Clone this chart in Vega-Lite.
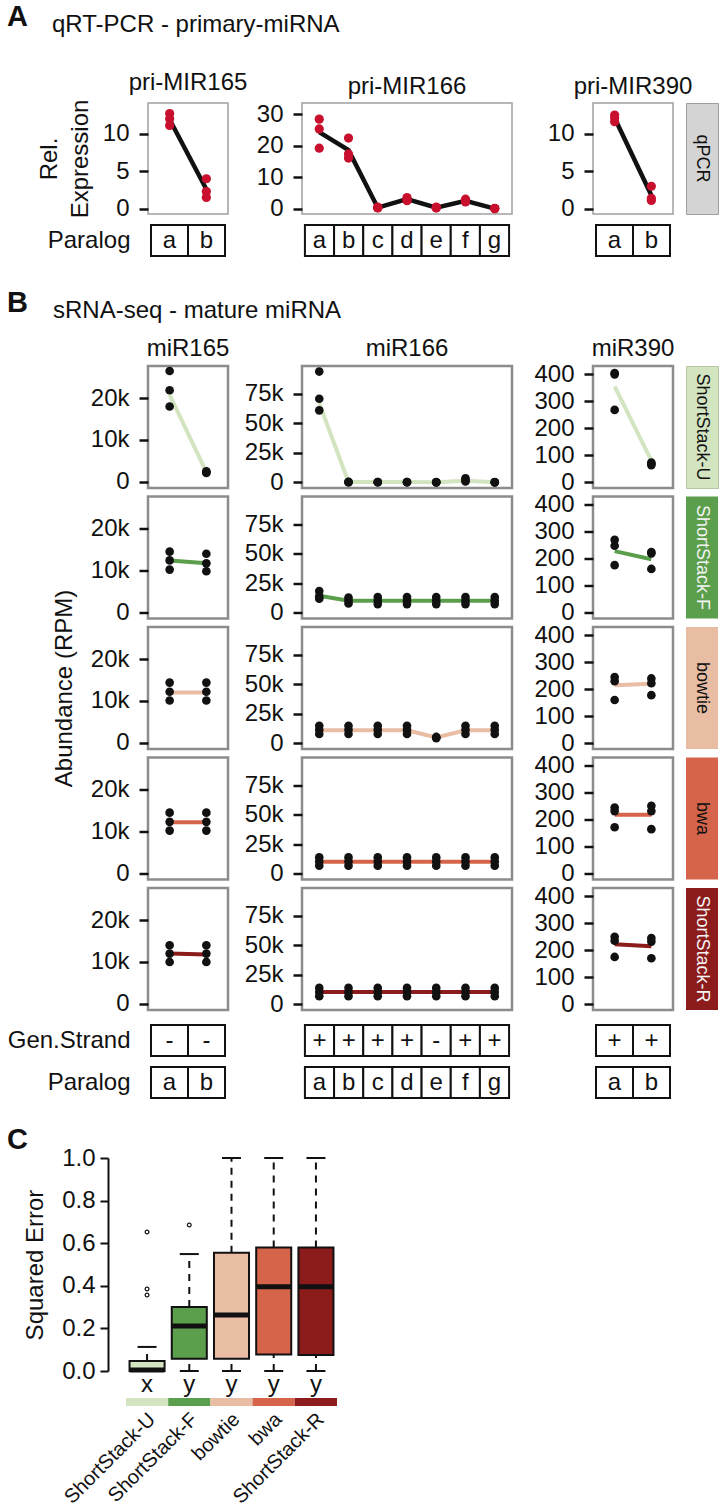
{
"$schema":"https://vega.github.io/schema/vega-lite/v6.json",
"padding":{"left":7,"top":3,"right":0,"bottom":0},
"config":{
 "font":"Liberation Sans",
 "view":{"stroke":"#8c8c8c","strokeWidth":2.5},
 "axis":{"labelFontSize":24,"labelColor":"#111","tickColor":"#111","tickWidth":2.5,"tickSize":9,"labelPadding":10,"domain":false,"grid":false,"titleFontSize":24,"titleFontWeight":"normal","titleColor":"#111","labelOverlap":false},
 "title":{"fontSize":24,"fontWeight":"normal","color":"#111","baseline":"alphabetic","anchor":"middle","frame":"group"},
 "legend":{"disable":true},
 "text":{"font":"Liberation Sans"}
},
"datasets":{
 "ptsA":[
  {"g":"MIR165","p":"a","v":12.7},{"g":"MIR165","p":"a","v":12.0},{"g":"MIR165","p":"a","v":11.1},
  {"g":"MIR165","p":"b","v":4.0},{"g":"MIR165","p":"b","v":2.3},{"g":"MIR165","p":"b","v":1.5},
  {"g":"MIR166","p":"a","v":28.4},{"g":"MIR166","p":"a","v":25.3},{"g":"MIR166","p":"a","v":19.2},
  {"g":"MIR166","p":"b","v":22.4},{"g":"MIR166","p":"b","v":17.4},{"g":"MIR166","p":"b","v":16.1},
  {"g":"MIR166","p":"c","v":0.6},{"g":"MIR166","p":"c","v":0.4},{"g":"MIR166","p":"c","v":0.3},
  {"g":"MIR166","p":"d","v":3.6},{"g":"MIR166","p":"d","v":3.1},{"g":"MIR166","p":"d","v":2.6},
  {"g":"MIR166","p":"e","v":0.6},{"g":"MIR166","p":"e","v":0.4},{"g":"MIR166","p":"e","v":0.3},
  {"g":"MIR166","p":"f","v":3.1},{"g":"MIR166","p":"f","v":2.6},{"g":"MIR166","p":"f","v":2.2},
  {"g":"MIR166","p":"g","v":0.2},{"g":"MIR166","p":"g","v":0.1},{"g":"MIR166","p":"g","v":0.1},
  {"g":"MIR390","p":"a","v":12.5},{"g":"MIR390","p":"a","v":12.1},{"g":"MIR390","p":"a","v":11.6},
  {"g":"MIR390","p":"b","v":3.0},{"g":"MIR390","p":"b","v":1.4},{"g":"MIR390","p":"b","v":1.1}
 ],
 "estA":[
  {"g":"MIR165","p":"a","v":11.9},{"g":"MIR165","p":"b","v":2.6},
  {"g":"MIR166","p":"a","v":24.3},{"g":"MIR166","p":"b","v":18.6},{"g":"MIR166","p":"c","v":0.4},{"g":"MIR166","p":"d","v":3.1},{"g":"MIR166","p":"e","v":0.4},{"g":"MIR166","p":"f","v":2.6},{"g":"MIR166","p":"g","v":0.1},
  {"g":"MIR390","p":"a","v":12.1},{"g":"MIR390","p":"b","v":1.8}
 ],
 "ptsB":[
  {"m":"ShortStack-U","g":"miR165","p":"a","v":26500},{"m":"ShortStack-U","g":"miR165","p":"a","v":21900},{"m":"ShortStack-U","g":"miR165","p":"a","v":18000},
  {"m":"ShortStack-U","g":"miR165","p":"b","v":2500},{"m":"ShortStack-U","g":"miR165","p":"b","v":2300},{"m":"ShortStack-U","g":"miR165","p":"b","v":2100},
  {"m":"ShortStack-F","g":"miR165","p":"a","v":14500},{"m":"ShortStack-F","g":"miR165","p":"a","v":12400},{"m":"ShortStack-F","g":"miR165","p":"a","v":10200},
  {"m":"ShortStack-F","g":"miR165","p":"b","v":14000},{"m":"ShortStack-F","g":"miR165","p":"b","v":11700},{"m":"ShortStack-F","g":"miR165","p":"b","v":9800},
  {"m":"bowtie","g":"miR165","p":"a","v":14400},{"m":"bowtie","g":"miR165","p":"a","v":12200},{"m":"bowtie","g":"miR165","p":"a","v":10100},
  {"m":"bowtie","g":"miR165","p":"b","v":14400},{"m":"bowtie","g":"miR165","p":"b","v":12200},{"m":"bowtie","g":"miR165","p":"b","v":10100},
  {"m":"bwa","g":"miR165","p":"a","v":14500},{"m":"bwa","g":"miR165","p":"a","v":12300},{"m":"bwa","g":"miR165","p":"a","v":10200},
  {"m":"bwa","g":"miR165","p":"b","v":14500},{"m":"bwa","g":"miR165","p":"b","v":12300},{"m":"bwa","g":"miR165","p":"b","v":10200},
  {"m":"ShortStack-R","g":"miR165","p":"a","v":14000},{"m":"ShortStack-R","g":"miR165","p":"a","v":12000},{"m":"ShortStack-R","g":"miR165","p":"a","v":10000},
  {"m":"ShortStack-R","g":"miR165","p":"b","v":14000},{"m":"ShortStack-R","g":"miR165","p":"b","v":12000},{"m":"ShortStack-R","g":"miR165","p":"b","v":10000},

  {"m":"ShortStack-U","g":"miR166","p":"a","v":93800},{"m":"ShortStack-U","g":"miR166","p":"a","v":70800},{"m":"ShortStack-U","g":"miR166","p":"a","v":61000},
  {"m":"ShortStack-U","g":"miR166","p":"b","v":500},{"m":"ShortStack-U","g":"miR166","p":"b","v":300},{"m":"ShortStack-U","g":"miR166","p":"b","v":200},
  {"m":"ShortStack-U","g":"miR166","p":"c","v":400},{"m":"ShortStack-U","g":"miR166","p":"c","v":300},{"m":"ShortStack-U","g":"miR166","p":"c","v":200},
  {"m":"ShortStack-U","g":"miR166","p":"d","v":400},{"m":"ShortStack-U","g":"miR166","p":"d","v":300},{"m":"ShortStack-U","g":"miR166","p":"d","v":200},
  {"m":"ShortStack-U","g":"miR166","p":"e","v":300},{"m":"ShortStack-U","g":"miR166","p":"e","v":200},{"m":"ShortStack-U","g":"miR166","p":"e","v":100},
  {"m":"ShortStack-U","g":"miR166","p":"f","v":3500},{"m":"ShortStack-U","g":"miR166","p":"f","v":1800},{"m":"ShortStack-U","g":"miR166","p":"f","v":800},
  {"m":"ShortStack-U","g":"miR166","p":"g","v":300},{"m":"ShortStack-U","g":"miR166","p":"g","v":200},{"m":"ShortStack-U","g":"miR166","p":"g","v":100},
  {"m":"ShortStack-F","g":"miR166","p":"a","v":18500},{"m":"ShortStack-F","g":"miR166","p":"a","v":14000},{"m":"ShortStack-F","g":"miR166","p":"a","v":12000},
  {"m":"ShortStack-F","g":"miR166","p":"b","v":13000},{"m":"ShortStack-F","g":"miR166","p":"b","v":10500},{"m":"ShortStack-F","g":"miR166","p":"b","v":8000},
  {"m":"ShortStack-F","g":"miR166","p":"c","v":13500},{"m":"ShortStack-F","g":"miR166","p":"c","v":10500},{"m":"ShortStack-F","g":"miR166","p":"c","v":7500},
  {"m":"ShortStack-F","g":"miR166","p":"d","v":13500},{"m":"ShortStack-F","g":"miR166","p":"d","v":10500},{"m":"ShortStack-F","g":"miR166","p":"d","v":7500},
  {"m":"ShortStack-F","g":"miR166","p":"e","v":13500},{"m":"ShortStack-F","g":"miR166","p":"e","v":10500},{"m":"ShortStack-F","g":"miR166","p":"e","v":7500},
  {"m":"ShortStack-F","g":"miR166","p":"f","v":13500},{"m":"ShortStack-F","g":"miR166","p":"f","v":10500},{"m":"ShortStack-F","g":"miR166","p":"f","v":7500},
  {"m":"ShortStack-F","g":"miR166","p":"g","v":13500},{"m":"ShortStack-F","g":"miR166","p":"g","v":10500},{"m":"ShortStack-F","g":"miR166","p":"g","v":7500},
  {"m":"bowtie","g":"miR166","p":"a","v":15000},{"m":"bowtie","g":"miR166","p":"a","v":11500},{"m":"bowtie","g":"miR166","p":"a","v":8000},
  {"m":"bowtie","g":"miR166","p":"b","v":15000},{"m":"bowtie","g":"miR166","p":"b","v":11500},{"m":"bowtie","g":"miR166","p":"b","v":8000},
  {"m":"bowtie","g":"miR166","p":"c","v":15000},{"m":"bowtie","g":"miR166","p":"c","v":11500},{"m":"bowtie","g":"miR166","p":"c","v":8000},
  {"m":"bowtie","g":"miR166","p":"d","v":15000},{"m":"bowtie","g":"miR166","p":"d","v":11500},{"m":"bowtie","g":"miR166","p":"d","v":8000},
  {"m":"bowtie","g":"miR166","p":"e","v":5500},{"m":"bowtie","g":"miR166","p":"e","v":5000},{"m":"bowtie","g":"miR166","p":"e","v":4500},
  {"m":"bowtie","g":"miR166","p":"f","v":15000},{"m":"bowtie","g":"miR166","p":"f","v":11500},{"m":"bowtie","g":"miR166","p":"f","v":8000},
  {"m":"bowtie","g":"miR166","p":"g","v":15000},{"m":"bowtie","g":"miR166","p":"g","v":11500},{"m":"bowtie","g":"miR166","p":"g","v":8000},
  {"m":"bwa","g":"miR166","p":"a","v":14000},{"m":"bwa","g":"miR166","p":"a","v":10500},{"m":"bwa","g":"miR166","p":"a","v":7000},
  {"m":"bwa","g":"miR166","p":"b","v":14000},{"m":"bwa","g":"miR166","p":"b","v":10500},{"m":"bwa","g":"miR166","p":"b","v":7000},
  {"m":"bwa","g":"miR166","p":"c","v":14000},{"m":"bwa","g":"miR166","p":"c","v":10500},{"m":"bwa","g":"miR166","p":"c","v":7000},
  {"m":"bwa","g":"miR166","p":"d","v":14000},{"m":"bwa","g":"miR166","p":"d","v":10500},{"m":"bwa","g":"miR166","p":"d","v":7000},
  {"m":"bwa","g":"miR166","p":"e","v":14000},{"m":"bwa","g":"miR166","p":"e","v":10500},{"m":"bwa","g":"miR166","p":"e","v":7000},
  {"m":"bwa","g":"miR166","p":"f","v":14000},{"m":"bwa","g":"miR166","p":"f","v":10500},{"m":"bwa","g":"miR166","p":"f","v":7000},
  {"m":"bwa","g":"miR166","p":"g","v":14000},{"m":"bwa","g":"miR166","p":"g","v":10500},{"m":"bwa","g":"miR166","p":"g","v":7000},
  {"m":"ShortStack-R","g":"miR166","p":"a","v":14000},{"m":"ShortStack-R","g":"miR166","p":"a","v":10500},{"m":"ShortStack-R","g":"miR166","p":"a","v":7000},
  {"m":"ShortStack-R","g":"miR166","p":"b","v":14000},{"m":"ShortStack-R","g":"miR166","p":"b","v":10500},{"m":"ShortStack-R","g":"miR166","p":"b","v":7000},
  {"m":"ShortStack-R","g":"miR166","p":"c","v":14000},{"m":"ShortStack-R","g":"miR166","p":"c","v":10500},{"m":"ShortStack-R","g":"miR166","p":"c","v":7000},
  {"m":"ShortStack-R","g":"miR166","p":"d","v":14000},{"m":"ShortStack-R","g":"miR166","p":"d","v":10500},{"m":"ShortStack-R","g":"miR166","p":"d","v":7000},
  {"m":"ShortStack-R","g":"miR166","p":"e","v":14000},{"m":"ShortStack-R","g":"miR166","p":"e","v":10500},{"m":"ShortStack-R","g":"miR166","p":"e","v":7000},
  {"m":"ShortStack-R","g":"miR166","p":"f","v":14000},{"m":"ShortStack-R","g":"miR166","p":"f","v":10500},{"m":"ShortStack-R","g":"miR166","p":"f","v":7000},
  {"m":"ShortStack-R","g":"miR166","p":"g","v":14000},{"m":"ShortStack-R","g":"miR166","p":"g","v":10500},{"m":"ShortStack-R","g":"miR166","p":"g","v":7000},

  {"m":"ShortStack-U","g":"miR390","p":"a","v":405},{"m":"ShortStack-U","g":"miR390","p":"a","v":400},{"m":"ShortStack-U","g":"miR390","p":"a","v":268},
  {"m":"ShortStack-U","g":"miR390","p":"b","v":72},{"m":"ShortStack-U","g":"miR390","p":"b","v":68},{"m":"ShortStack-U","g":"miR390","p":"b","v":63},
  {"m":"ShortStack-F","g":"miR390","p":"a","v":270},{"m":"ShortStack-F","g":"miR390","p":"a","v":248},{"m":"ShortStack-F","g":"miR390","p":"a","v":176},
  {"m":"ShortStack-F","g":"miR390","p":"b","v":225},{"m":"ShortStack-F","g":"miR390","p":"b","v":220},{"m":"ShortStack-F","g":"miR390","p":"b","v":162},
  {"m":"bowtie","g":"miR390","p":"a","v":245},{"m":"bowtie","g":"miR390","p":"a","v":230},{"m":"bowtie","g":"miR390","p":"a","v":160},
  {"m":"bowtie","g":"miR390","p":"b","v":240},{"m":"bowtie","g":"miR390","p":"b","v":222},{"m":"bowtie","g":"miR390","p":"b","v":178},
  {"m":"bwa","g":"miR390","p":"a","v":245},{"m":"bwa","g":"miR390","p":"a","v":232},{"m":"bwa","g":"miR390","p":"a","v":172},
  {"m":"bwa","g":"miR390","p":"b","v":252},{"m":"bwa","g":"miR390","p":"b","v":232},{"m":"bwa","g":"miR390","p":"b","v":165},
  {"m":"ShortStack-R","g":"miR390","p":"a","v":250},{"m":"ShortStack-R","g":"miR390","p":"a","v":235},{"m":"ShortStack-R","g":"miR390","p":"a","v":175},
  {"m":"ShortStack-R","g":"miR390","p":"b","v":245},{"m":"ShortStack-R","g":"miR390","p":"b","v":232},{"m":"ShortStack-R","g":"miR390","p":"b","v":170}
 ],
 "estB":[
  {"m":"ShortStack-U","g":"miR165","p":"a","v":20800},{"m":"ShortStack-U","g":"miR165","p":"b","v":2300},
  {"m":"ShortStack-F","g":"miR165","p":"a","v":12400},{"m":"ShortStack-F","g":"miR165","p":"b","v":11700},
  {"m":"bowtie","g":"miR165","p":"a","v":12000},{"m":"bowtie","g":"miR165","p":"b","v":12000},
  {"m":"bwa","g":"miR165","p":"a","v":12200},{"m":"bwa","g":"miR165","p":"b","v":12200},
  {"m":"ShortStack-R","g":"miR165","p":"a","v":12000},{"m":"ShortStack-R","g":"miR165","p":"b","v":11800},
  {"m":"ShortStack-U","g":"miR166","p":"a","v":67000},{"m":"ShortStack-U","g":"miR166","p":"b","v":300},{"m":"ShortStack-U","g":"miR166","p":"c","v":300},{"m":"ShortStack-U","g":"miR166","p":"d","v":300},{"m":"ShortStack-U","g":"miR166","p":"e","v":200},{"m":"ShortStack-U","g":"miR166","p":"f","v":1500},{"m":"ShortStack-U","g":"miR166","p":"g","v":200},
  {"m":"ShortStack-F","g":"miR166","p":"a","v":14500},{"m":"ShortStack-F","g":"miR166","p":"b","v":10300},{"m":"ShortStack-F","g":"miR166","p":"c","v":10300},{"m":"ShortStack-F","g":"miR166","p":"d","v":10300},{"m":"ShortStack-F","g":"miR166","p":"e","v":10300},{"m":"ShortStack-F","g":"miR166","p":"f","v":10300},{"m":"ShortStack-F","g":"miR166","p":"g","v":10300},
  {"m":"bowtie","g":"miR166","p":"a","v":11200},{"m":"bowtie","g":"miR166","p":"b","v":11200},{"m":"bowtie","g":"miR166","p":"c","v":11200},{"m":"bowtie","g":"miR166","p":"d","v":11200},{"m":"bowtie","g":"miR166","p":"e","v":5000},{"m":"bowtie","g":"miR166","p":"f","v":11200},{"m":"bowtie","g":"miR166","p":"g","v":11200},
  {"m":"bwa","g":"miR166","p":"a","v":10300},{"m":"bwa","g":"miR166","p":"b","v":10300},{"m":"bwa","g":"miR166","p":"c","v":10300},{"m":"bwa","g":"miR166","p":"d","v":10300},{"m":"bwa","g":"miR166","p":"e","v":10300},{"m":"bwa","g":"miR166","p":"f","v":10300},{"m":"bwa","g":"miR166","p":"g","v":10300},
  {"m":"ShortStack-R","g":"miR166","p":"a","v":10600},{"m":"ShortStack-R","g":"miR166","p":"b","v":10600},{"m":"ShortStack-R","g":"miR166","p":"c","v":10600},{"m":"ShortStack-R","g":"miR166","p":"d","v":10600},{"m":"ShortStack-R","g":"miR166","p":"e","v":10600},{"m":"ShortStack-R","g":"miR166","p":"f","v":10600},{"m":"ShortStack-R","g":"miR166","p":"g","v":10600},
  {"m":"ShortStack-U","g":"miR390","p":"a","v":355},{"m":"ShortStack-U","g":"miR390","p":"b","v":80},
  {"m":"ShortStack-F","g":"miR390","p":"a","v":228},{"m":"ShortStack-F","g":"miR390","p":"b","v":198},
  {"m":"bowtie","g":"miR390","p":"a","v":215},{"m":"bowtie","g":"miR390","p":"b","v":220},
  {"m":"bwa","g":"miR390","p":"a","v":218},{"m":"bwa","g":"miR390","p":"b","v":218},
  {"m":"ShortStack-R","g":"miR390","p":"a","v":222},{"m":"ShortStack-R","g":"miR390","p":"b","v":215}
 ],
 "boxes":[
  {"g":"MIR165","track":"Paralog","p":"a","t":"a"},{"g":"MIR165","track":"Paralog","p":"b","t":"b"},
  {"g":"MIR166","track":"Paralog","p":"a","t":"a"},{"g":"MIR166","track":"Paralog","p":"b","t":"b"},{"g":"MIR166","track":"Paralog","p":"c","t":"c"},{"g":"MIR166","track":"Paralog","p":"d","t":"d"},{"g":"MIR166","track":"Paralog","p":"e","t":"e"},{"g":"MIR166","track":"Paralog","p":"f","t":"f"},{"g":"MIR166","track":"Paralog","p":"g","t":"g"},
  {"g":"MIR390","track":"Paralog","p":"a","t":"a"},{"g":"MIR390","track":"Paralog","p":"b","t":"b"},
  {"g":"miR165","track":"Gen.Strand","p":"a","t":"-"},{"g":"miR165","track":"Gen.Strand","p":"b","t":"-"},
  {"g":"miR165","track":"Paralog","p":"a","t":"a"},{"g":"miR165","track":"Paralog","p":"b","t":"b"},
  {"g":"miR166","track":"Gen.Strand","p":"a","t":"+"},{"g":"miR166","track":"Gen.Strand","p":"b","t":"+"},{"g":"miR166","track":"Gen.Strand","p":"c","t":"+"},{"g":"miR166","track":"Gen.Strand","p":"d","t":"+"},{"g":"miR166","track":"Gen.Strand","p":"e","t":"-"},{"g":"miR166","track":"Gen.Strand","p":"f","t":"+"},{"g":"miR166","track":"Gen.Strand","p":"g","t":"+"},
  {"g":"miR166","track":"Paralog","p":"a","t":"a"},{"g":"miR166","track":"Paralog","p":"b","t":"b"},{"g":"miR166","track":"Paralog","p":"c","t":"c"},{"g":"miR166","track":"Paralog","p":"d","t":"d"},{"g":"miR166","track":"Paralog","p":"e","t":"e"},{"g":"miR166","track":"Paralog","p":"f","t":"f"},{"g":"miR166","track":"Paralog","p":"g","t":"g"},
  {"g":"miR390","track":"Gen.Strand","p":"a","t":"+"},{"g":"miR390","track":"Gen.Strand","p":"b","t":"+"},
  {"g":"miR390","track":"Paralog","p":"a","t":"a"},{"g":"miR390","track":"Paralog","p":"b","t":"b"}
 ],
 "boxC":[
  {"m":"ShortStack-U","lo":0,"q1":0,"med":0.005,"q3":0.047,"hi":0.113,"letter":"x"},
  {"m":"ShortStack-F","lo":0,"q1":0.057,"med":0.211,"q3":0.30,"hi":0.549,"letter":"y"},
  {"m":"bowtie","lo":0,"q1":0.057,"med":0.263,"q3":0.555,"hi":1.0,"letter":"y"},
  {"m":"bwa","lo":0,"q1":0.078,"med":0.395,"q3":0.58,"hi":1.0,"letter":"y"},
  {"m":"ShortStack-R","lo":0,"q1":0.075,"med":0.395,"q3":0.58,"hi":1.0,"letter":"y"}
 ],
 "outC":[
  {"m":"ShortStack-U","v":0.653},{"m":"ShortStack-U","v":0.385},{"m":"ShortStack-U","v":0.357},
  {"m":"ShortStack-F","v":0.685}
 ]
},
"spacing":31,
"vconcat":[
 {"title":{"text":"A","fontSize":29,"fontWeight":"bold","anchor":"start","frame":"group","dx":-101,"offset":-19},
  "vconcat":[
   {"title":{"text":"qRT-PCR - primary-miRNA","anchor":"start","frame":"group","dx":-56,"offset":33},
    "columns":7,"spacing":{"row":11,"column":13},"bounds":"flush","align":"each",
    "concat":[
     {"width":27,"height":1,"data":{"values":[]},"mark":"point","view":{"stroke":null}},
     {"width":80,"height":111,"title":{"text":"pri-MIR165","offset":4},"view":{"stroke":"#a0a0a0","strokeWidth":1.5},
      "layer":[
       {"data":{"name":"estA"},"transform":[{"filter":"datum.g=='MIR165'"}],"mark":{"type":"line","color":"#111","strokeWidth":4.5},
        "encoding":{"x":{"field":"p","type":"nominal","scale":{"type":"point","domain":["a","b"],"padding":0.59},"axis":null},
                    "y":{"field":"v","type":"quantitative","scale":{"domain":[-0.7,14.1],"nice":false,"zero":false},"axis":{"values":[0,5,10],"title":["Rel.","Expression"],"titlePadding":10,"titleLineHeight":31}}}},
       {"data":{"name":"ptsA"},"transform":[{"filter":"datum.g=='MIR165'"}],"mark":{"type":"circle","size":85,"color":"#c8102e","opacity":1},
        "encoding":{"x":{"field":"p","type":"nominal","scale":{"type":"point","domain":["a","b"],"padding":0.59},"axis":null},
                    "y":{"field":"v","type":"quantitative","scale":{"domain":[-0.7,14.1],"nice":false,"zero":false},"axis":{"values":[0,5,10],"title":["Rel.","Expression"],"titlePadding":10,"titleLineHeight":31}}}}
      ]},
     {"width":48,"height":1,"data":{"values":[]},"mark":"point","view":{"stroke":null}},
     {"width":210,"height":111,"title":{"text":"pri-MIR166","offset":3},"view":{"stroke":"#a0a0a0","strokeWidth":1.5},
      "layer":[
       {"data":{"name":"estA"},"transform":[{"filter":"datum.g=='MIR166'"}],"mark":{"type":"line","color":"#111","strokeWidth":4.5},
        "encoding":{"x":{"field":"p","type":"nominal","scale":{"type":"point","domain":["a","b","c","d","e","f","g"],"padding":0.59},"axis":null},
                    "y":{"field":"v","type":"quantitative","scale":{"domain":[-1.6,33.5],"nice":false,"zero":false},"axis":{"values":[0,10,20,30],"title":null}}}},
       {"data":{"name":"ptsA"},"transform":[{"filter":"datum.g=='MIR166'"}],"mark":{"type":"circle","size":85,"color":"#c8102e","opacity":1},
        "encoding":{"x":{"field":"p","type":"nominal","scale":{"type":"point","domain":["a","b","c","d","e","f","g"],"padding":0.59},"axis":null},
                    "y":{"field":"v","type":"quantitative","scale":{"domain":[-1.6,33.5],"nice":false,"zero":false},"axis":{"values":[0,10,20,30],"title":null}}}}
      ]},
     {"width":55,"height":1,"data":{"values":[]},"mark":"point","view":{"stroke":null}},
     {"width":80,"height":111,"title":{"text":"pri-MIR390","offset":4},"view":{"stroke":"#a0a0a0","strokeWidth":1.5},
      "layer":[
       {"data":{"name":"estA"},"transform":[{"filter":"datum.g=='MIR390'"}],"mark":{"type":"line","color":"#111","strokeWidth":4.5},
        "encoding":{"x":{"field":"p","type":"nominal","scale":{"type":"point","domain":["a","b"],"padding":0.59},"axis":null},
                    "y":{"field":"v","type":"quantitative","scale":{"domain":[-0.7,14.1],"nice":false,"zero":false},"axis":{"values":[0,5,10],"title":null}}}},
       {"data":{"name":"ptsA"},"transform":[{"filter":"datum.g=='MIR390'"}],"mark":{"type":"circle","size":85,"color":"#c8102e","opacity":1},
        "encoding":{"x":{"field":"p","type":"nominal","scale":{"type":"point","domain":["a","b"],"padding":0.59},"axis":null},
                    "y":{"field":"v","type":"quantitative","scale":{"domain":[-0.7,14.1],"nice":false,"zero":false},"axis":{"values":[0,5,10],"title":null}}}}
      ]},
     {"width":32,"height":111,"view":{"fill":"#d4d4d4","stroke":"#9e9e9e","strokeWidth":1},"data":{"values":[{"m":"qPCR"}]},"mark":{"type":"text","angle":90,"fontSize":18,"color":"#111"},"encoding":{"text":{"field":"m","type":"nominal"}}},

     {"width":27,"height":1,"data":{"values":[]},"mark":"point","view":{"stroke":null}},
     {"width":80,"height":31,"view":{"stroke":null},"data":{"name":"boxes"},"transform":[{"filter":"datum.g=='MIR165'"}],
      "encoding":{"x":{"field":"p","type":"nominal","scale":{"type":"band","domain":["a","b"],"paddingInner":0,"paddingOuter":0.081},"axis":null},
                  "y":{"field":"track","type":"nominal","scale":{"type":"band","domain":["Paralog"],"paddingInner":0,"paddingOuter":0},"axis":{"title":null,"ticks":false,"tickSize":0,"labelPadding":18,"domain":false}}},
      "layer":[{"mark":{"type":"rect","fill":"white","stroke":"#111","strokeWidth":2}},{"mark":{"type":"text","fontSize":24,"color":"#111"},"encoding":{"text":{"field":"t","type":"nominal"}}}]},
     {"width":48,"height":1,"data":{"values":[]},"mark":"point","view":{"stroke":null}},
     {"width":210,"height":31,"view":{"stroke":null},"data":{"name":"boxes"},"transform":[{"filter":"datum.g=='MIR166'"}],
      "encoding":{"x":{"field":"p","type":"nominal","scale":{"type":"band","domain":["a","b","c","d","e","f","g"],"paddingInner":0,"paddingOuter":0.1},"axis":null},
                  "y":{"field":"track","type":"nominal","scale":{"type":"band","domain":["Paralog"],"paddingInner":0,"paddingOuter":0},"axis":null}},
      "layer":[{"mark":{"type":"rect","fill":"white","stroke":"#111","strokeWidth":2}},{"mark":{"type":"text","fontSize":24,"color":"#111"},"encoding":{"text":{"field":"t","type":"nominal"}}}]},
     {"width":55,"height":1,"data":{"values":[]},"mark":"point","view":{"stroke":null}},
     {"width":80,"height":31,"view":{"stroke":null},"data":{"name":"boxes"},"transform":[{"filter":"datum.g=='MIR390'"}],
      "encoding":{"x":{"field":"p","type":"nominal","scale":{"type":"band","domain":["a","b"],"paddingInner":0,"paddingOuter":0.081},"axis":null},
                  "y":{"field":"track","type":"nominal","scale":{"type":"band","domain":["Paralog"],"paddingInner":0,"paddingOuter":0},"axis":null}},
      "layer":[{"mark":{"type":"rect","fill":"white","stroke":"#111","strokeWidth":2}},{"mark":{"type":"text","fontSize":24,"color":"#111"},"encoding":{"text":{"field":"t","type":"nominal"}}}]}
    ]}
  ]},
 {"spacing":27,
  "vconcat":[
   {"title":{"text":"B","fontSize":29,"fontWeight":"bold","anchor":"start","frame":"group","dx":-101,"offset":-19},
    "vconcat":[
     {"title":{"text":"sRNA-seq - mature miRNA","anchor":"start","frame":"group","dx":-55,"offset":13},
      "columns":7,"spacing":{"row":8.5,"column":13},"bounds":"flush","align":"each",
      "concat":[
       {"width":27,"height":1,"data":{"values":[]},"mark":"point","view":{"stroke":null}},
       {"width":80,"height":122,"title":{"text":"miR165","offset":5},"layer":[
        {"data":{"name":"estB"},"transform":[{"filter":"datum.g=='miR165'&&datum.m=='ShortStack-U'"}],"mark":{"type":"line","strokeWidth":4},"encoding":{"x":{"field":"p","type":"nominal","scale":{"type":"point","domain":["a","b"],"padding":0.59},"axis":null},"y":{"field":"v","type":"quantitative","scale":{"domain":[-1500,27700],"nice":false,"zero":false},"axis":{"values":[0,10000,20000],"labelExpr":"datum.value == 0 ? '0' : format(datum.value, '~s')","title":null}},"color":{"field":"m","type":"nominal","scale":{"domain":["ShortStack-U","ShortStack-F","bowtie","bwa","ShortStack-R"],"range":["#d3e4c1","#5b9e4b","#e9bca4","#d5644a","#8c1b1b"]},"legend":null}}},
        {"data":{"name":"ptsB"},"transform":[{"filter":"datum.g=='miR165'&&datum.m=='ShortStack-U'"}],"mark":{"type":"circle","size":75,"color":"#111","opacity":1},"encoding":{"x":{"field":"p","type":"nominal","scale":{"type":"point","domain":["a","b"],"padding":0.59},"axis":null},"y":{"field":"v","type":"quantitative","scale":{"domain":[-1500,27700],"nice":false,"zero":false},"axis":{"values":[0,10000,20000],"labelExpr":"datum.value == 0 ? '0' : format(datum.value, '~s')","title":null}}}}]},
       {"width":48,"height":1,"data":{"values":[]},"mark":"point","view":{"stroke":null}},
       {"width":210,"height":122,"title":{"text":"miR166","offset":5},"layer":[
        {"data":{"name":"estB"},"transform":[{"filter":"datum.g=='miR166'&&datum.m=='ShortStack-U'"}],"mark":{"type":"line","strokeWidth":4},"encoding":{"x":{"field":"p","type":"nominal","scale":{"type":"point","domain":["a","b","c","d","e","f","g"],"padding":0.59},"axis":null},"y":{"field":"v","type":"quantitative","scale":{"domain":[-4700,98500],"nice":false,"zero":false},"axis":{"values":[0,25000,50000,75000],"labelExpr":"datum.value == 0 ? '0' : format(datum.value, '~s')","title":null}},"color":{"field":"m","type":"nominal","scale":{"domain":["ShortStack-U","ShortStack-F","bowtie","bwa","ShortStack-R"],"range":["#d3e4c1","#5b9e4b","#e9bca4","#d5644a","#8c1b1b"]},"legend":null}}},
        {"data":{"name":"ptsB"},"transform":[{"filter":"datum.g=='miR166'&&datum.m=='ShortStack-U'"}],"mark":{"type":"circle","size":75,"color":"#111","opacity":1},"encoding":{"x":{"field":"p","type":"nominal","scale":{"type":"point","domain":["a","b","c","d","e","f","g"],"padding":0.59},"axis":null},"y":{"field":"v","type":"quantitative","scale":{"domain":[-4700,98500],"nice":false,"zero":false},"axis":{"values":[0,25000,50000,75000],"labelExpr":"datum.value == 0 ? '0' : format(datum.value, '~s')","title":null}}}}]},
       {"width":55,"height":1,"data":{"values":[]},"mark":"point","view":{"stroke":null}},
       {"width":80,"height":122,"title":{"text":"miR390","offset":1},"layer":[
        {"data":{"name":"estB"},"transform":[{"filter":"datum.g=='miR390'&&datum.m=='ShortStack-U'"}],"mark":{"type":"line","strokeWidth":4},"encoding":{"x":{"field":"p","type":"nominal","scale":{"type":"point","domain":["a","b"],"padding":0.59},"axis":null},"y":{"field":"v","type":"quantitative","scale":{"domain":[-22,431],"nice":false,"zero":false},"axis":{"values":[0,100,200,300,400],"title":null}},"color":{"field":"m","type":"nominal","scale":{"domain":["ShortStack-U","ShortStack-F","bowtie","bwa","ShortStack-R"],"range":["#d3e4c1","#5b9e4b","#e9bca4","#d5644a","#8c1b1b"]},"legend":null}}},
        {"data":{"name":"ptsB"},"transform":[{"filter":"datum.g=='miR390'&&datum.m=='ShortStack-U'"}],"mark":{"type":"circle","size":75,"color":"#111","opacity":1},"encoding":{"x":{"field":"p","type":"nominal","scale":{"type":"point","domain":["a","b"],"padding":0.59},"axis":null},"y":{"field":"v","type":"quantitative","scale":{"domain":[-22,431],"nice":false,"zero":false},"axis":{"values":[0,100,200,300,400],"title":null}}}}]},
       {"width":32,"height":122,"view":{"fill":"#d3e4c1","stroke":"#b5c6a3","strokeWidth":1},"data":{"values":[{"m":"ShortStack-U"}]},"mark":{"type":"text","angle":90,"fontSize":18,"color":"#111"},"encoding":{"text":{"field":"m","type":"nominal"}}},

       {"width":27,"height":1,"data":{"values":[]},"mark":"point","view":{"stroke":null}},
       {"width":80,"height":122,"layer":[
        {"data":{"name":"estB"},"transform":[{"filter":"datum.g=='miR165'&&datum.m=='ShortStack-F'"}],"mark":{"type":"line","strokeWidth":4},"encoding":{"x":{"field":"p","type":"nominal","scale":{"type":"point","domain":["a","b"],"padding":0.59},"axis":null},"y":{"field":"v","type":"quantitative","scale":{"domain":[-1500,27700],"nice":false,"zero":false},"axis":{"values":[0,10000,20000],"labelExpr":"datum.value == 0 ? '0' : format(datum.value, '~s')","title":null}},"color":{"field":"m","type":"nominal","scale":{"domain":["ShortStack-U","ShortStack-F","bowtie","bwa","ShortStack-R"],"range":["#d3e4c1","#5b9e4b","#e9bca4","#d5644a","#8c1b1b"]},"legend":null}}},
        {"data":{"name":"ptsB"},"transform":[{"filter":"datum.g=='miR165'&&datum.m=='ShortStack-F'"}],"mark":{"type":"circle","size":75,"color":"#111","opacity":1},"encoding":{"x":{"field":"p","type":"nominal","scale":{"type":"point","domain":["a","b"],"padding":0.59},"axis":null},"y":{"field":"v","type":"quantitative","scale":{"domain":[-1500,27700],"nice":false,"zero":false},"axis":{"values":[0,10000,20000],"labelExpr":"datum.value == 0 ? '0' : format(datum.value, '~s')","title":null}}}}]},
       {"width":48,"height":1,"data":{"values":[]},"mark":"point","view":{"stroke":null}},
       {"width":210,"height":122,"layer":[
        {"data":{"name":"estB"},"transform":[{"filter":"datum.g=='miR166'&&datum.m=='ShortStack-F'"}],"mark":{"type":"line","strokeWidth":4},"encoding":{"x":{"field":"p","type":"nominal","scale":{"type":"point","domain":["a","b","c","d","e","f","g"],"padding":0.59},"axis":null},"y":{"field":"v","type":"quantitative","scale":{"domain":[-4700,98500],"nice":false,"zero":false},"axis":{"values":[0,25000,50000,75000],"labelExpr":"datum.value == 0 ? '0' : format(datum.value, '~s')","title":null}},"color":{"field":"m","type":"nominal","scale":{"domain":["ShortStack-U","ShortStack-F","bowtie","bwa","ShortStack-R"],"range":["#d3e4c1","#5b9e4b","#e9bca4","#d5644a","#8c1b1b"]},"legend":null}}},
        {"data":{"name":"ptsB"},"transform":[{"filter":"datum.g=='miR166'&&datum.m=='ShortStack-F'"}],"mark":{"type":"circle","size":75,"color":"#111","opacity":1},"encoding":{"x":{"field":"p","type":"nominal","scale":{"type":"point","domain":["a","b","c","d","e","f","g"],"padding":0.59},"axis":null},"y":{"field":"v","type":"quantitative","scale":{"domain":[-4700,98500],"nice":false,"zero":false},"axis":{"values":[0,25000,50000,75000],"labelExpr":"datum.value == 0 ? '0' : format(datum.value, '~s')","title":null}}}}]},
       {"width":55,"height":1,"data":{"values":[]},"mark":"point","view":{"stroke":null}},
       {"width":80,"height":122,"layer":[
        {"data":{"name":"estB"},"transform":[{"filter":"datum.g=='miR390'&&datum.m=='ShortStack-F'"}],"mark":{"type":"line","strokeWidth":4},"encoding":{"x":{"field":"p","type":"nominal","scale":{"type":"point","domain":["a","b"],"padding":0.59},"axis":null},"y":{"field":"v","type":"quantitative","scale":{"domain":[-22,431],"nice":false,"zero":false},"axis":{"values":[0,100,200,300,400],"title":null}},"color":{"field":"m","type":"nominal","scale":{"domain":["ShortStack-U","ShortStack-F","bowtie","bwa","ShortStack-R"],"range":["#d3e4c1","#5b9e4b","#e9bca4","#d5644a","#8c1b1b"]},"legend":null}}},
        {"data":{"name":"ptsB"},"transform":[{"filter":"datum.g=='miR390'&&datum.m=='ShortStack-F'"}],"mark":{"type":"circle","size":75,"color":"#111","opacity":1},"encoding":{"x":{"field":"p","type":"nominal","scale":{"type":"point","domain":["a","b"],"padding":0.59},"axis":null},"y":{"field":"v","type":"quantitative","scale":{"domain":[-22,431],"nice":false,"zero":false},"axis":{"values":[0,100,200,300,400],"title":null}}}}]},
       {"width":32,"height":122,"view":{"fill":"#5b9e4b","stroke":null},"data":{"values":[{"m":"ShortStack-F"}]},"mark":{"type":"text","angle":90,"fontSize":18,"color":"#f4f4f4"},"encoding":{"text":{"field":"m","type":"nominal"}}},

       {"width":27,"height":1,"data":{"values":[]},"mark":"point","view":{"stroke":null}},
       {"width":80,"height":122,"layer":[
        {"data":{"name":"estB"},"transform":[{"filter":"datum.g=='miR165'&&datum.m=='bowtie'"}],"mark":{"type":"line","strokeWidth":4},"encoding":{"x":{"field":"p","type":"nominal","scale":{"type":"point","domain":["a","b"],"padding":0.59},"axis":null},"y":{"field":"v","type":"quantitative","scale":{"domain":[-1500,27700],"nice":false,"zero":false},"axis":{"values":[0,10000,20000],"labelExpr":"datum.value == 0 ? '0' : format(datum.value, '~s')","title":"Abundance (RPM)","titlePadding":14}},"color":{"field":"m","type":"nominal","scale":{"domain":["ShortStack-U","ShortStack-F","bowtie","bwa","ShortStack-R"],"range":["#d3e4c1","#5b9e4b","#e9bca4","#d5644a","#8c1b1b"]},"legend":null}}},
        {"data":{"name":"ptsB"},"transform":[{"filter":"datum.g=='miR165'&&datum.m=='bowtie'"}],"mark":{"type":"circle","size":75,"color":"#111","opacity":1},"encoding":{"x":{"field":"p","type":"nominal","scale":{"type":"point","domain":["a","b"],"padding":0.59},"axis":null},"y":{"field":"v","type":"quantitative","scale":{"domain":[-1500,27700],"nice":false,"zero":false},"axis":{"values":[0,10000,20000],"labelExpr":"datum.value == 0 ? '0' : format(datum.value, '~s')","title":"Abundance (RPM)","titlePadding":14}}}}]},
       {"width":48,"height":1,"data":{"values":[]},"mark":"point","view":{"stroke":null}},
       {"width":210,"height":122,"layer":[
        {"data":{"name":"estB"},"transform":[{"filter":"datum.g=='miR166'&&datum.m=='bowtie'"}],"mark":{"type":"line","strokeWidth":4},"encoding":{"x":{"field":"p","type":"nominal","scale":{"type":"point","domain":["a","b","c","d","e","f","g"],"padding":0.59},"axis":null},"y":{"field":"v","type":"quantitative","scale":{"domain":[-4700,98500],"nice":false,"zero":false},"axis":{"values":[0,25000,50000,75000],"labelExpr":"datum.value == 0 ? '0' : format(datum.value, '~s')","title":null}},"color":{"field":"m","type":"nominal","scale":{"domain":["ShortStack-U","ShortStack-F","bowtie","bwa","ShortStack-R"],"range":["#d3e4c1","#5b9e4b","#e9bca4","#d5644a","#8c1b1b"]},"legend":null}}},
        {"data":{"name":"ptsB"},"transform":[{"filter":"datum.g=='miR166'&&datum.m=='bowtie'"}],"mark":{"type":"circle","size":75,"color":"#111","opacity":1},"encoding":{"x":{"field":"p","type":"nominal","scale":{"type":"point","domain":["a","b","c","d","e","f","g"],"padding":0.59},"axis":null},"y":{"field":"v","type":"quantitative","scale":{"domain":[-4700,98500],"nice":false,"zero":false},"axis":{"values":[0,25000,50000,75000],"labelExpr":"datum.value == 0 ? '0' : format(datum.value, '~s')","title":null}}}}]},
       {"width":55,"height":1,"data":{"values":[]},"mark":"point","view":{"stroke":null}},
       {"width":80,"height":122,"layer":[
        {"data":{"name":"estB"},"transform":[{"filter":"datum.g=='miR390'&&datum.m=='bowtie'"}],"mark":{"type":"line","strokeWidth":4},"encoding":{"x":{"field":"p","type":"nominal","scale":{"type":"point","domain":["a","b"],"padding":0.59},"axis":null},"y":{"field":"v","type":"quantitative","scale":{"domain":[-22,431],"nice":false,"zero":false},"axis":{"values":[0,100,200,300,400],"title":null}},"color":{"field":"m","type":"nominal","scale":{"domain":["ShortStack-U","ShortStack-F","bowtie","bwa","ShortStack-R"],"range":["#d3e4c1","#5b9e4b","#e9bca4","#d5644a","#8c1b1b"]},"legend":null}}},
        {"data":{"name":"ptsB"},"transform":[{"filter":"datum.g=='miR390'&&datum.m=='bowtie'"}],"mark":{"type":"circle","size":75,"color":"#111","opacity":1},"encoding":{"x":{"field":"p","type":"nominal","scale":{"type":"point","domain":["a","b"],"padding":0.59},"axis":null},"y":{"field":"v","type":"quantitative","scale":{"domain":[-22,431],"nice":false,"zero":false},"axis":{"values":[0,100,200,300,400],"title":null}}}}]},
       {"width":32,"height":122,"view":{"fill":"#e9bca4","stroke":null},"data":{"values":[{"m":"bowtie"}]},"mark":{"type":"text","angle":90,"fontSize":18,"color":"#111"},"encoding":{"text":{"field":"m","type":"nominal"}}},

       {"width":27,"height":1,"data":{"values":[]},"mark":"point","view":{"stroke":null}},
       {"width":80,"height":122,"layer":[
        {"data":{"name":"estB"},"transform":[{"filter":"datum.g=='miR165'&&datum.m=='bwa'"}],"mark":{"type":"line","strokeWidth":4},"encoding":{"x":{"field":"p","type":"nominal","scale":{"type":"point","domain":["a","b"],"padding":0.59},"axis":null},"y":{"field":"v","type":"quantitative","scale":{"domain":[-1500,27700],"nice":false,"zero":false},"axis":{"values":[0,10000,20000],"labelExpr":"datum.value == 0 ? '0' : format(datum.value, '~s')","title":null}},"color":{"field":"m","type":"nominal","scale":{"domain":["ShortStack-U","ShortStack-F","bowtie","bwa","ShortStack-R"],"range":["#d3e4c1","#5b9e4b","#e9bca4","#d5644a","#8c1b1b"]},"legend":null}}},
        {"data":{"name":"ptsB"},"transform":[{"filter":"datum.g=='miR165'&&datum.m=='bwa'"}],"mark":{"type":"circle","size":75,"color":"#111","opacity":1},"encoding":{"x":{"field":"p","type":"nominal","scale":{"type":"point","domain":["a","b"],"padding":0.59},"axis":null},"y":{"field":"v","type":"quantitative","scale":{"domain":[-1500,27700],"nice":false,"zero":false},"axis":{"values":[0,10000,20000],"labelExpr":"datum.value == 0 ? '0' : format(datum.value, '~s')","title":null}}}}]},
       {"width":48,"height":1,"data":{"values":[]},"mark":"point","view":{"stroke":null}},
       {"width":210,"height":122,"layer":[
        {"data":{"name":"estB"},"transform":[{"filter":"datum.g=='miR166'&&datum.m=='bwa'"}],"mark":{"type":"line","strokeWidth":4},"encoding":{"x":{"field":"p","type":"nominal","scale":{"type":"point","domain":["a","b","c","d","e","f","g"],"padding":0.59},"axis":null},"y":{"field":"v","type":"quantitative","scale":{"domain":[-4700,98500],"nice":false,"zero":false},"axis":{"values":[0,25000,50000,75000],"labelExpr":"datum.value == 0 ? '0' : format(datum.value, '~s')","title":null}},"color":{"field":"m","type":"nominal","scale":{"domain":["ShortStack-U","ShortStack-F","bowtie","bwa","ShortStack-R"],"range":["#d3e4c1","#5b9e4b","#e9bca4","#d5644a","#8c1b1b"]},"legend":null}}},
        {"data":{"name":"ptsB"},"transform":[{"filter":"datum.g=='miR166'&&datum.m=='bwa'"}],"mark":{"type":"circle","size":75,"color":"#111","opacity":1},"encoding":{"x":{"field":"p","type":"nominal","scale":{"type":"point","domain":["a","b","c","d","e","f","g"],"padding":0.59},"axis":null},"y":{"field":"v","type":"quantitative","scale":{"domain":[-4700,98500],"nice":false,"zero":false},"axis":{"values":[0,25000,50000,75000],"labelExpr":"datum.value == 0 ? '0' : format(datum.value, '~s')","title":null}}}}]},
       {"width":55,"height":1,"data":{"values":[]},"mark":"point","view":{"stroke":null}},
       {"width":80,"height":122,"layer":[
        {"data":{"name":"estB"},"transform":[{"filter":"datum.g=='miR390'&&datum.m=='bwa'"}],"mark":{"type":"line","strokeWidth":4},"encoding":{"x":{"field":"p","type":"nominal","scale":{"type":"point","domain":["a","b"],"padding":0.59},"axis":null},"y":{"field":"v","type":"quantitative","scale":{"domain":[-22,431],"nice":false,"zero":false},"axis":{"values":[0,100,200,300,400],"title":null}},"color":{"field":"m","type":"nominal","scale":{"domain":["ShortStack-U","ShortStack-F","bowtie","bwa","ShortStack-R"],"range":["#d3e4c1","#5b9e4b","#e9bca4","#d5644a","#8c1b1b"]},"legend":null}}},
        {"data":{"name":"ptsB"},"transform":[{"filter":"datum.g=='miR390'&&datum.m=='bwa'"}],"mark":{"type":"circle","size":75,"color":"#111","opacity":1},"encoding":{"x":{"field":"p","type":"nominal","scale":{"type":"point","domain":["a","b"],"padding":0.59},"axis":null},"y":{"field":"v","type":"quantitative","scale":{"domain":[-22,431],"nice":false,"zero":false},"axis":{"values":[0,100,200,300,400],"title":null}}}}]},
       {"width":32,"height":122,"view":{"fill":"#d5644a","stroke":null},"data":{"values":[{"m":"bwa"}]},"mark":{"type":"text","angle":90,"fontSize":18,"color":"#111"},"encoding":{"text":{"field":"m","type":"nominal"}}},

       {"width":27,"height":1,"data":{"values":[]},"mark":"point","view":{"stroke":null}},
       {"width":80,"height":122,"layer":[
        {"data":{"name":"estB"},"transform":[{"filter":"datum.g=='miR165'&&datum.m=='ShortStack-R'"}],"mark":{"type":"line","strokeWidth":4},"encoding":{"x":{"field":"p","type":"nominal","scale":{"type":"point","domain":["a","b"],"padding":0.59},"axis":null},"y":{"field":"v","type":"quantitative","scale":{"domain":[-1500,27700],"nice":false,"zero":false},"axis":{"values":[0,10000,20000],"labelExpr":"datum.value == 0 ? '0' : format(datum.value, '~s')","title":null}},"color":{"field":"m","type":"nominal","scale":{"domain":["ShortStack-U","ShortStack-F","bowtie","bwa","ShortStack-R"],"range":["#d3e4c1","#5b9e4b","#e9bca4","#d5644a","#8c1b1b"]},"legend":null}}},
        {"data":{"name":"ptsB"},"transform":[{"filter":"datum.g=='miR165'&&datum.m=='ShortStack-R'"}],"mark":{"type":"circle","size":75,"color":"#111","opacity":1},"encoding":{"x":{"field":"p","type":"nominal","scale":{"type":"point","domain":["a","b"],"padding":0.59},"axis":null},"y":{"field":"v","type":"quantitative","scale":{"domain":[-1500,27700],"nice":false,"zero":false},"axis":{"values":[0,10000,20000],"labelExpr":"datum.value == 0 ? '0' : format(datum.value, '~s')","title":null}}}}]},
       {"width":48,"height":1,"data":{"values":[]},"mark":"point","view":{"stroke":null}},
       {"width":210,"height":122,"layer":[
        {"data":{"name":"estB"},"transform":[{"filter":"datum.g=='miR166'&&datum.m=='ShortStack-R'"}],"mark":{"type":"line","strokeWidth":4},"encoding":{"x":{"field":"p","type":"nominal","scale":{"type":"point","domain":["a","b","c","d","e","f","g"],"padding":0.59},"axis":null},"y":{"field":"v","type":"quantitative","scale":{"domain":[-4700,98500],"nice":false,"zero":false},"axis":{"values":[0,25000,50000,75000],"labelExpr":"datum.value == 0 ? '0' : format(datum.value, '~s')","title":null}},"color":{"field":"m","type":"nominal","scale":{"domain":["ShortStack-U","ShortStack-F","bowtie","bwa","ShortStack-R"],"range":["#d3e4c1","#5b9e4b","#e9bca4","#d5644a","#8c1b1b"]},"legend":null}}},
        {"data":{"name":"ptsB"},"transform":[{"filter":"datum.g=='miR166'&&datum.m=='ShortStack-R'"}],"mark":{"type":"circle","size":75,"color":"#111","opacity":1},"encoding":{"x":{"field":"p","type":"nominal","scale":{"type":"point","domain":["a","b","c","d","e","f","g"],"padding":0.59},"axis":null},"y":{"field":"v","type":"quantitative","scale":{"domain":[-4700,98500],"nice":false,"zero":false},"axis":{"values":[0,25000,50000,75000],"labelExpr":"datum.value == 0 ? '0' : format(datum.value, '~s')","title":null}}}}]},
       {"width":55,"height":1,"data":{"values":[]},"mark":"point","view":{"stroke":null}},
       {"width":80,"height":122,"layer":[
        {"data":{"name":"estB"},"transform":[{"filter":"datum.g=='miR390'&&datum.m=='ShortStack-R'"}],"mark":{"type":"line","strokeWidth":4},"encoding":{"x":{"field":"p","type":"nominal","scale":{"type":"point","domain":["a","b"],"padding":0.59},"axis":null},"y":{"field":"v","type":"quantitative","scale":{"domain":[-22,431],"nice":false,"zero":false},"axis":{"values":[0,100,200,300,400],"title":null}},"color":{"field":"m","type":"nominal","scale":{"domain":["ShortStack-U","ShortStack-F","bowtie","bwa","ShortStack-R"],"range":["#d3e4c1","#5b9e4b","#e9bca4","#d5644a","#8c1b1b"]},"legend":null}}},
        {"data":{"name":"ptsB"},"transform":[{"filter":"datum.g=='miR390'&&datum.m=='ShortStack-R'"}],"mark":{"type":"circle","size":75,"color":"#111","opacity":1},"encoding":{"x":{"field":"p","type":"nominal","scale":{"type":"point","domain":["a","b"],"padding":0.59},"axis":null},"y":{"field":"v","type":"quantitative","scale":{"domain":[-22,431],"nice":false,"zero":false},"axis":{"values":[0,100,200,300,400],"title":null}}}}]},
       {"width":32,"height":122,"view":{"fill":"#8c1b1b","stroke":null},"data":{"values":[{"m":"ShortStack-R"}]},"mark":{"type":"text","angle":90,"fontSize":18,"color":"#f4f4f4"},"encoding":{"text":{"field":"m","type":"nominal"}}},

       {"width":27,"height":1,"data":{"values":[]},"mark":"point","view":{"stroke":null}},
       {"width":80,"height":79.5,"view":{"stroke":null},"data":{"name":"boxes"},"transform":[{"filter":"datum.g=='miR165'"}],
        "encoding":{"x":{"field":"p","type":"nominal","scale":{"type":"band","domain":["a","b"],"paddingInner":0,"paddingOuter":0.081},"axis":null},
                    "y":{"field":"track","type":"nominal","scale":{"type":"band","domain":["Gen.Strand","Paralog"],"paddingInner":0.2619,"paddingOuter":0.0774,"align":1},"axis":{"title":null,"ticks":false,"tickSize":0,"labelPadding":18,"domain":false}}},
        "layer":[{"mark":{"type":"rect","fill":"white","stroke":"#111","strokeWidth":2}},{"mark":{"type":"text","fontSize":24,"color":"#111"},"encoding":{"text":{"field":"t","type":"nominal"}}}]},
       {"width":48,"height":1,"data":{"values":[]},"mark":"point","view":{"stroke":null}},
       {"width":210,"height":79.5,"view":{"stroke":null},"data":{"name":"boxes"},"transform":[{"filter":"datum.g=='miR166'"}],
        "encoding":{"x":{"field":"p","type":"nominal","scale":{"type":"band","domain":["a","b","c","d","e","f","g"],"paddingInner":0,"paddingOuter":0.1},"axis":null},
                    "y":{"field":"track","type":"nominal","scale":{"type":"band","domain":["Gen.Strand","Paralog"],"paddingInner":0.2619,"paddingOuter":0.0774,"align":1},"axis":null}},
        "layer":[{"mark":{"type":"rect","fill":"white","stroke":"#111","strokeWidth":2}},{"mark":{"type":"text","fontSize":24,"color":"#111"},"encoding":{"text":{"field":"t","type":"nominal"}}}]},
       {"width":55,"height":1,"data":{"values":[]},"mark":"point","view":{"stroke":null}},
       {"width":80,"height":79.5,"view":{"stroke":null},"data":{"name":"boxes"},"transform":[{"filter":"datum.g=='miR390'"}],
        "encoding":{"x":{"field":"p","type":"nominal","scale":{"type":"band","domain":["a","b"],"paddingInner":0,"paddingOuter":0.081},"axis":null},
                    "y":{"field":"track","type":"nominal","scale":{"type":"band","domain":["Gen.Strand","Paralog"],"paddingInner":0.2619,"paddingOuter":0.0774,"align":1},"axis":null}},
        "layer":[{"mark":{"type":"rect","fill":"white","stroke":"#111","strokeWidth":2}},{"mark":{"type":"text","fontSize":24,"color":"#111"},"encoding":{"text":{"field":"t","type":"nominal"}}}]}
      ]}
    ]},
   {"title":{"text":"C","fontSize":29,"fontWeight":"bold","anchor":"start","frame":"group","dx":-101,"offset":-9},
    "spacing":3,"bounds":"flush",
    "vconcat":[
     {"width":247,"height":213,"view":{"stroke":null},"data":{"name":"boxC"},
      "encoding":{"x":{"field":"m","type":"nominal","scale":{"type":"band","domain":["ShortStack-U","ShortStack-F","bowtie","bwa","ShortStack-R"],"paddingInner":0.17,"paddingOuter":0.51},"axis":null}},
      "layer":[
       {"mark":{"type":"rule","strokeDash":[7,6],"strokeWidth":2,"color":"#111"},"encoding":{"y":{"field":"q3","type":"quantitative","scale":{"domain":[0,1],"nice":false},"axis":{"values":[0,0.2,0.4,0.6,0.8,1],"format":".1f","title":"Squared Error","titlePadding":14,"domain":true,"domainColor":"#111","domainWidth":2,"tickSize":8,"tickWidth":2,"labelPadding":5}},"y2":{"field":"hi"}}},
       {"mark":{"type":"rule","strokeDash":[7,6],"strokeWidth":2,"color":"#111"},"encoding":{"y":{"field":"lo","type":"quantitative","scale":{"domain":[0,1],"nice":false},"axis":{"values":[0,0.2,0.4,0.6,0.8,1],"format":".1f","title":"Squared Error","titlePadding":14,"domain":true,"domainColor":"#111","domainWidth":2,"tickSize":8,"tickWidth":2,"labelPadding":5}},"y2":{"field":"q1"}}},
       {"mark":{"type":"tick","size":19,"thickness":2,"color":"#111","opacity":1},"encoding":{"y":{"field":"hi","type":"quantitative","scale":{"domain":[0,1],"nice":false},"axis":{"values":[0,0.2,0.4,0.6,0.8,1],"format":".1f","title":"Squared Error","titlePadding":14,"domain":true,"domainColor":"#111","domainWidth":2,"tickSize":8,"tickWidth":2,"labelPadding":5}}}},
       {"mark":{"type":"tick","size":19,"thickness":2,"color":"#111","opacity":1},"encoding":{"y":{"field":"lo","type":"quantitative","scale":{"domain":[0,1],"nice":false},"axis":{"values":[0,0.2,0.4,0.6,0.8,1],"format":".1f","title":"Squared Error","titlePadding":14,"domain":true,"domainColor":"#111","domainWidth":2,"tickSize":8,"tickWidth":2,"labelPadding":5}}}},
       {"mark":{"type":"bar","stroke":"#111","strokeWidth":2,"opacity":1},"encoding":{"y":{"field":"q1","type":"quantitative","scale":{"domain":[0,1],"nice":false},"axis":{"values":[0,0.2,0.4,0.6,0.8,1],"format":".1f","title":"Squared Error","titlePadding":14,"domain":true,"domainColor":"#111","domainWidth":2,"tickSize":8,"tickWidth":2,"labelPadding":5}},"y2":{"field":"q3"},"color":{"field":"m","type":"nominal","scale":{"domain":["ShortStack-U","ShortStack-F","bowtie","bwa","ShortStack-R"],"range":["#d3e4c1","#5b9e4b","#e9bca4","#d5644a","#8c1b1b"]},"legend":null}}},
       {"mark":{"type":"tick","size":35,"thickness":5,"color":"#111","opacity":1},"encoding":{"y":{"field":"med","type":"quantitative","scale":{"domain":[0,1],"nice":false},"axis":{"values":[0,0.2,0.4,0.6,0.8,1],"format":".1f","title":"Squared Error","titlePadding":14,"domain":true,"domainColor":"#111","domainWidth":2,"tickSize":8,"tickWidth":2,"labelPadding":5}}}},
       {"data":{"name":"outC"},"mark":{"type":"point","size":14,"filled":false,"color":"#111","strokeWidth":1.2,"opacity":1},"encoding":{"x":{"field":"m","type":"nominal","scale":{"type":"band","domain":["ShortStack-U","ShortStack-F","bowtie","bwa","ShortStack-R"],"paddingInner":0.17,"paddingOuter":0.51},"axis":null},"y":{"field":"v","type":"quantitative","scale":{"domain":[0,1],"nice":false},"axis":{"values":[0,0.2,0.4,0.6,0.8,1],"format":".1f","title":"Squared Error","titlePadding":14,"domain":true,"domainColor":"#111","domainWidth":2,"tickSize":8,"tickWidth":2,"labelPadding":5}}}}
      ]},
     {"width":247,"height":21,"view":{"stroke":null},"data":{"name":"boxC"},"mark":{"type":"text","fontSize":24,"color":"#111"},
      "encoding":{"x":{"field":"m","type":"nominal","scale":{"type":"band","domain":["ShortStack-U","ShortStack-F","bowtie","bwa","ShortStack-R"],"paddingInner":0.17,"paddingOuter":0.51},"axis":null},"text":{"field":"letter","type":"nominal"}}},
     {"width":247,"height":8,"view":{"stroke":null},"data":{"name":"boxC"},"mark":{"type":"rect"},
      "encoding":{"x":{"field":"m","type":"nominal","scale":{"type":"band","domain":["ShortStack-U","ShortStack-F","bowtie","bwa","ShortStack-R"],"paddingInner":0,"paddingOuter":0.427},"axis":{"title":null,"labelAngle":-45,"labelAlign":"right","labelBaseline":"middle","labelFontSize":20,"ticks":false,"tickSize":0,"labelPadding":10,"labelOffset":5,"domain":false}},
                  "color":{"field":"m","type":"nominal","scale":{"domain":["ShortStack-U","ShortStack-F","bowtie","bwa","ShortStack-R"],"range":["#d3e4c1","#5b9e4b","#e9bca4","#d5644a","#8c1b1b"]},"legend":null}}}
    ]}
  ]}
]
}
